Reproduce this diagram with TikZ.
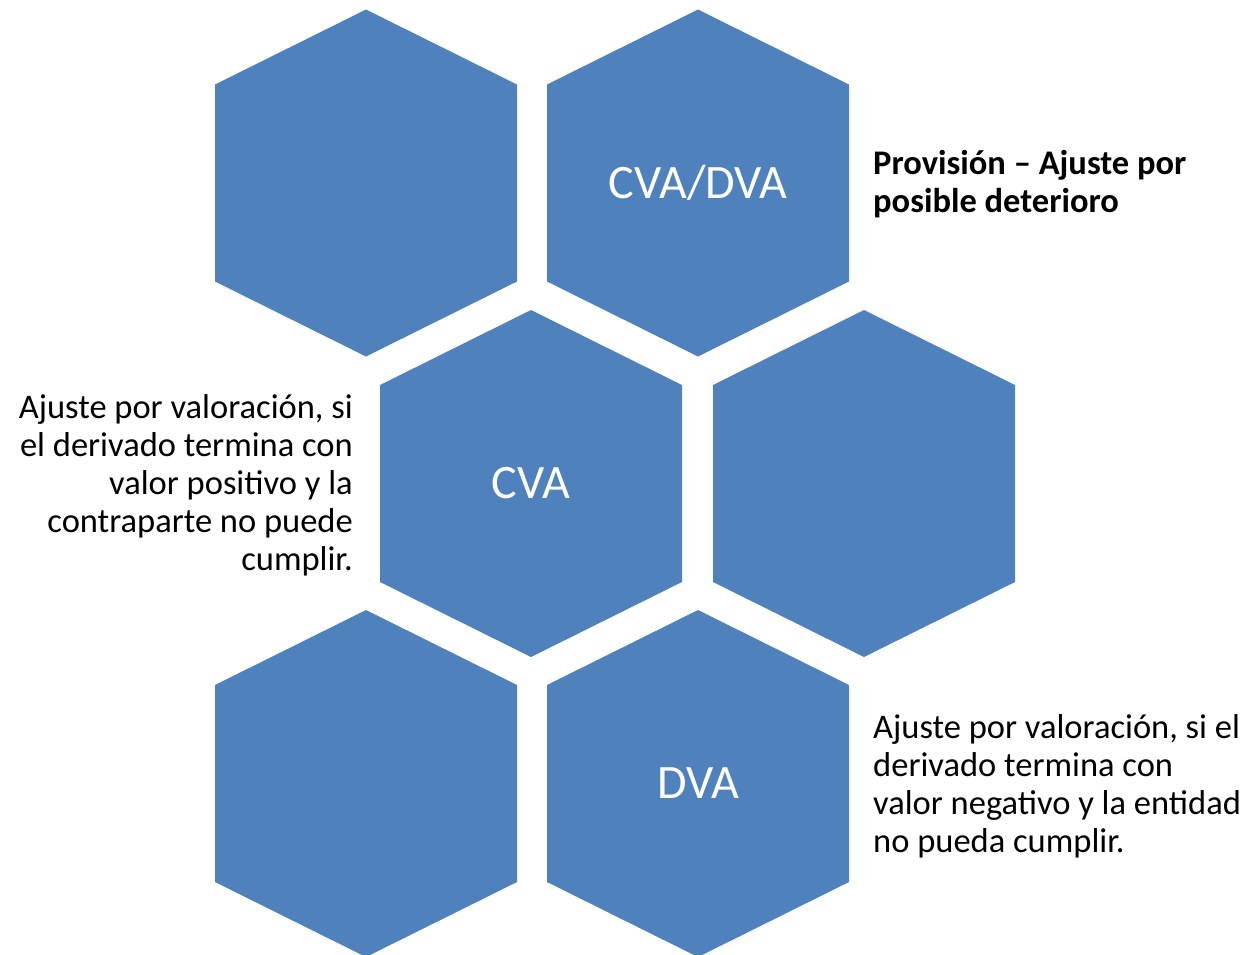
\documentclass[tikz,border=0pt]{standalone}
\usepackage{fontspec}
\setmainfont{Carlito}
\definecolor{hexblue}{HTML}{4F81BD}
\tikzset{
  hexfill/.style={fill=hexblue, draw=none},
  hexlabel/.style={text=white, font=\fontsize{48}{56}\selectfont, inner sep=0pt},
  sidetext/.style={text=black, font=\fontsize{34.5}{38}\selectfont, inner sep=0pt},
}
\newcommand{\hexat}[2]{%
  \path[hexfill] (#1,#2-173.5) -- (#1+151,#2-98.5) -- (#1+151,#2+98.5) -- (#1,#2+173.5)
    -- (#1-151,#2+98.5) -- (#1-151,#2-98.5) -- cycle;}
\begin{document}
\begin{tikzpicture}[x=1pt,y=-1pt]
\useasboundingbox (0,0) rectangle (1248,954);
\hexat{366}{183}
\hexat{698}{183}
\hexat{531}{483.5}
\hexat{864}{483.5}
\hexat{366}{783.5}
\hexat{698}{783.5}
\node[hexlabel] (h2) at (698,183) {CVA/DVA};
\node[hexlabel] (h3) at (531,483.5) {CVA};
\node[hexlabel] (h6) at (698,783.5) {DVA};
\node[sidetext, font=\fontsize{34.5}{38}\selectfont\bfseries, align=left, anchor=north west] (t1) at (873,150) {Provisión – Ajuste por\\posible deterioro};
\node[sidetext, align=right, anchor=north east] (t2) at (353,394) {Ajuste por valoración, si\\el derivado termina con\\valor positivo y la\\contraparte no puede\\cumplir.};
\node[sidetext, align=left, anchor=north west] (t3) at (873,714) {Ajuste por valoración, si el\\derivado termina con\\valor negativo y la entidad\\no pueda cumplir.};
\end{tikzpicture}
\end{document}
